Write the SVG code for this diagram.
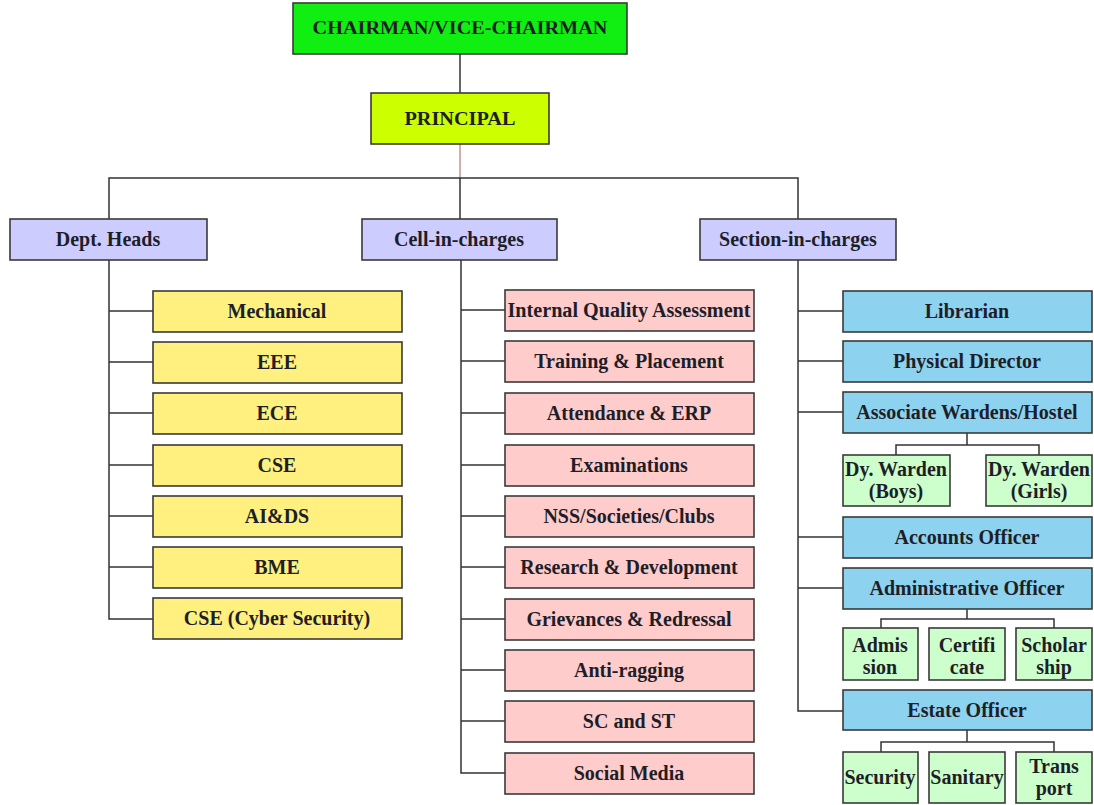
<svg xmlns="http://www.w3.org/2000/svg" width="1094" height="805" viewBox="0 0 1094 805">
<style>
rect{stroke:#3a3a3a;stroke-width:1.6}
text{font-family:"Liberation Serif","Times New Roman",serif;font-weight:bold;font-size:20px;fill:#1e1e28;text-anchor:middle}
.top{fill:#11ee11}
.pr{fill:#ccff00}
.l2{fill:#ccccff}
.ye{fill:#fff07f}
.pk{fill:#ffcccc}
.bl{fill:#8dd2ef}
.gr{fill:#ccffcc}
#conn path{fill:none;stroke:#333;stroke-width:1.5}
</style>
<rect width="1094" height="805" fill="#fff" style="stroke:none"/>
<g id="conn">
<path d="M460 54V93"/>
<path d="M460 144V178" style="stroke:#a85a5a;stroke-width:1"/>
<path d="M109 219V178H798V219M460 178V219"/>
<path d="M109 260V619H153M109 311H153M109 362H153M109 413H153M109 465H153M109 516H153M109 567H153"/>
<path d="M461 260V773H505M461 310H505M461 361H505M461 413H505M461 465H505M461 516H505M461 567H505M461 619H505M461 670H505M461 721H505"/>
<path d="M798 260V711H843M798 311H843M798 361H843M798 412H843M798 537H843M798 588H843"/>
<path d="M967 433V445M896 455V445H1039V455"/>
<path d="M967 609V619M881 628V619H1054V628"/>
<path d="M967 730V742M881 752V742H1054V752"/>
</g>
<g id="chairman"><rect class="top" x="293" y="3" width="334" height="51"/><text x="460" y="34" style="font-size:18px" textLength="295" lengthAdjust="spacingAndGlyphs">CHAIRMAN/VICE-CHAIRMAN</text></g>
<g id="principal"><rect class="pr" x="371" y="93" width="178" height="51"/><text x="460" y="125" style="font-size:18px" textLength="111" lengthAdjust="spacingAndGlyphs">PRINCIPAL</text></g>
<g id="dept"><rect class="l2" x="10" y="219" width="197" height="41"/><text x="108" y="246">Dept.  Heads</text></g>
<g id="cell"><rect class="l2" x="362" y="219" width="195" height="41"/><text x="459" y="246">Cell-in-charges</text></g>
<g id="section"><rect class="l2" x="700" y="219" width="196" height="41"/><text x="798" y="246">Section-in-charges</text></g>

<g id="mech"><rect class="ye" x="153" y="291" width="249" height="41"/><text x="277" y="318">Mechanical</text></g>
<g id="eee"><rect class="ye" x="153" y="342" width="249" height="41"/><text x="277" y="369">EEE</text></g>
<g id="ece"><rect class="ye" x="153" y="393" width="249" height="41"/><text x="277" y="420">ECE</text></g>
<g id="cse"><rect class="ye" x="153" y="445" width="249" height="41"/><text x="277" y="472">CSE</text></g>
<g id="aids"><rect class="ye" x="153" y="496" width="249" height="41"/><text x="277" y="523">AI&amp;DS</text></g>
<g id="bme"><rect class="ye" x="153" y="547" width="249" height="41"/><text x="277" y="574">BME</text></g>
<g id="csecs"><rect class="ye" x="153" y="598" width="249" height="41"/><text x="277" y="625">CSE (Cyber Security)</text></g>

<g id="iqa"><rect class="pk" x="505" y="290" width="249" height="41"/><text x="629" y="317" textLength="243" lengthAdjust="spacingAndGlyphs">Internal Quality Assessment</text></g>
<g id="tp"><rect class="pk" x="505" y="341" width="249" height="41"/><text x="629" y="368">Training &amp; Placement</text></g>
<g id="erp"><rect class="pk" x="505" y="393" width="249" height="41"/><text x="629" y="420">Attendance &amp; ERP</text></g>
<g id="exam"><rect class="pk" x="505" y="445" width="249" height="41"/><text x="629" y="472">Examinations</text></g>
<g id="nss"><rect class="pk" x="505" y="496" width="249" height="41"/><text x="629" y="523">NSS/Societies/Clubs</text></g>
<g id="rd"><rect class="pk" x="505" y="547" width="249" height="41"/><text x="629" y="574">Research &amp; Development</text></g>
<g id="griev"><rect class="pk" x="505" y="599" width="249" height="41"/><text x="629" y="626">Grievances &amp; Redressal</text></g>
<g id="anti"><rect class="pk" x="505" y="650" width="249" height="41"/><text x="629" y="677">Anti-ragging</text></g>
<g id="scst"><rect class="pk" x="505" y="701" width="249" height="41"/><text x="629" y="728">SC and ST</text></g>
<g id="social"><rect class="pk" x="505" y="753" width="249" height="41"/><text x="629" y="780">Social Media</text></g>

<g id="lib"><rect class="bl" x="843" y="291" width="249" height="41"/><text x="967" y="318">Librarian</text></g>
<g id="pd"><rect class="bl" x="843" y="341" width="249" height="41"/><text x="967" y="368">Physical Director</text></g>
<g id="warden"><rect class="bl" x="843" y="392" width="249" height="41"/><text x="967" y="419">Associate Wardens/Hostel</text></g>
<g id="dyb"><rect class="gr" x="843" y="455" width="107" height="51"/><text x="896" y="476">Dy.  Warden</text><text x="896" y="498">(Boys)</text></g>
<g id="dyg"><rect class="gr" x="986" y="455" width="106" height="51"/><text x="1039" y="476">Dy.  Warden</text><text x="1039" y="498">(Girls)</text></g>
<g id="acc"><rect class="bl" x="843" y="517" width="249" height="41"/><text x="967" y="544">Accounts Officer</text></g>
<g id="admin"><rect class="bl" x="843" y="568" width="249" height="41"/><text x="967" y="595">Administrative Officer</text></g>
<g id="admis"><rect class="gr" x="843" y="628" width="75" height="52"/><text x="880" y="652">Admis</text><text x="880" y="674">sion</text></g>
<g id="cert"><rect class="gr" x="929" y="628" width="76" height="52"/><text x="967" y="652">Certifi</text><text x="967" y="674">cate</text></g>
<g id="schol"><rect class="gr" x="1016" y="628" width="76" height="52"/><text x="1054" y="652">Scholar</text><text x="1054" y="674">ship</text></g>
<g id="estate"><rect class="bl" x="843" y="690" width="249" height="40"/><text x="967" y="717">Estate Officer</text></g>
<g id="sec"><rect class="gr" x="843" y="752" width="75" height="51"/><text x="880" y="784">Security</text></g>
<g id="san"><rect class="gr" x="929" y="752" width="76" height="51"/><text x="967" y="784">Sanitary</text></g>
<g id="trans"><rect class="gr" x="1016" y="752" width="76" height="51"/><text x="1054" y="773">Trans</text><text x="1054" y="795">port</text></g>
</svg>
